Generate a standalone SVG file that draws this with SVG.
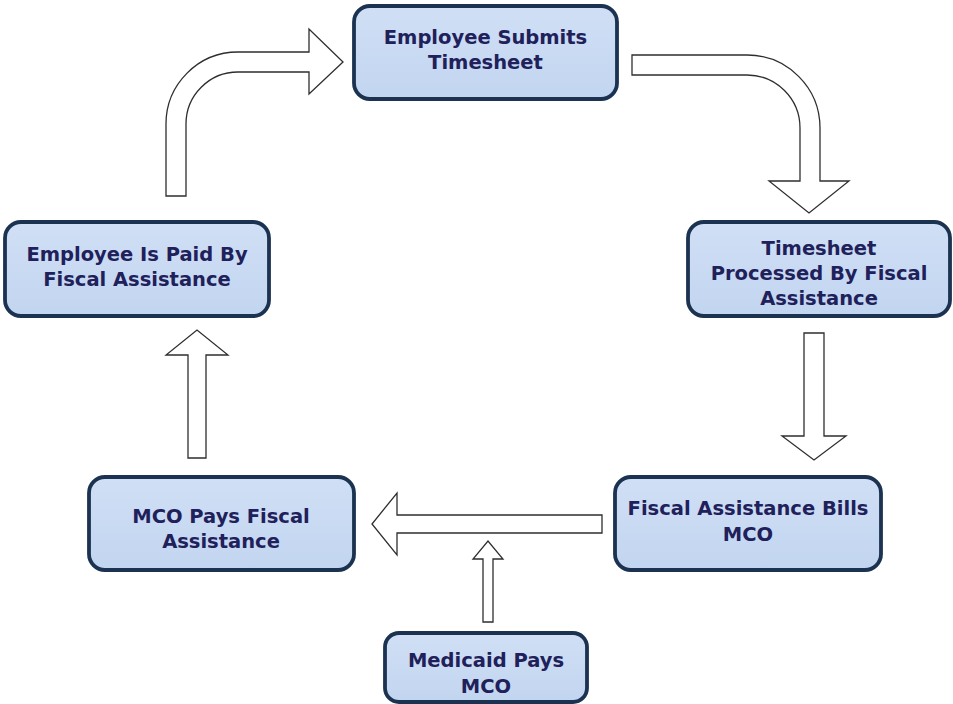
<svg xmlns="http://www.w3.org/2000/svg" width="953" height="704" viewBox="0 0 953 704">
<defs>
<linearGradient id="boxfill" x1="0" y1="0" x2="0" y2="1">
<stop offset="0" stop-color="#d0dff5"/>
<stop offset="1" stop-color="#c2d5f0"/>
</linearGradient>
<style>
.box{fill:url(#boxfill);stroke:#1b3350;stroke-width:3.8}
.lbl{font-family:"DejaVu Sans",Verdana,sans-serif;font-weight:bold;font-size:19.5px;fill:#20205a;text-anchor:middle}
.arr{fill:#ffffff;stroke:#2e2e2e;stroke-width:1.3;stroke-linejoin:miter}
</style>
</defs>
<rect width="953" height="704" fill="#ffffff"/>
<g id="connectors">
<path class="arr" d="M166,196 V124 A72,72 0 0 1 238,52 H309 V29 L343,62 L309,94 V72 H238 A52,52 0 0 0 186,124 V196 Z"/>
<path class="arr" d="M632,55 H747 A73,73 0 0 1 820,128 V181 H849 L809,213 L769,181 H800 V128 A53,53 0 0 0 747,75 H632 Z"/>
<path class="arr" d="M804,333 H824 V436 H846 L814,460 L782,436 H804 Z"/>
<path class="arr" d="M602,515 V533 H397 V555 L372,524 L397,493 V515 Z"/>
<path class="arr" d="M483,622 V559 H473 L488,541 L503,559 H493 V622 Z"/>
<path class="arr" d="M188,458 V355 H166 L197,330 L228,355 H206 V458 Z"/>
</g>
<g id="n1">
<rect class="box" x="354" y="6" width="263" height="93" rx="16"/>
<text class="lbl" x="485.5" y="44">Employee Submits</text>
<text class="lbl" x="485.5" y="69">Timesheet</text>
</g>
<g id="n2">
<rect class="box" x="688" y="222" width="262" height="94" rx="16"/>
<text class="lbl" x="819" y="255">Timesheet</text>
<text class="lbl" x="819" y="280">Processed By Fiscal</text>
<text class="lbl" x="819" y="305">Assistance</text>
</g>
<g id="n3">
<rect class="box" x="5" y="222" width="264" height="94" rx="16"/>
<text class="lbl" x="137" y="261">Employee Is Paid By</text>
<text class="lbl" x="137" y="286">Fiscal Assistance</text>
</g>
<g id="n4">
<rect class="box" x="89" y="477" width="265" height="93" rx="16"/>
<text class="lbl" x="221" y="523">MCO Pays Fiscal</text>
<text class="lbl" x="221" y="548">Assistance</text>
</g>
<g id="n5">
<rect class="box" x="615" y="477" width="266" height="93" rx="16"/>
<text class="lbl" x="748" y="515">Fiscal Assistance Bills</text>
<text class="lbl" x="748" y="541">MCO</text>
</g>
<g id="n6">
<rect class="box" x="385" y="633" width="202" height="69" rx="14"/>
<text class="lbl" x="486" y="667">Medicaid Pays</text>
<text class="lbl" x="486" y="693">MCO</text>
</g>
</svg>
